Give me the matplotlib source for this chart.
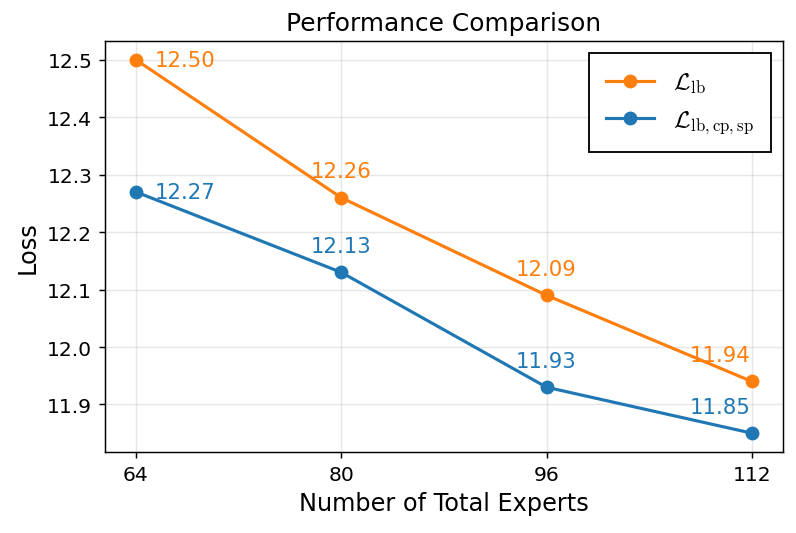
import matplotlib.pyplot as plt

plt.rcParams['mathtext.fontset'] = 'cm'

experts = [64, 80, 96, 112]
loss_lb = [12.50, 12.26, 12.09, 11.94]
loss_lb_cp_sp = [12.27, 12.13, 11.93, 11.85]

# label offsets in points, per point
offs = [(10, 0, 'left', 'center'), (0, 9, 'center', 'bottom'),
        (0, 9, 'center', 'bottom'), (-17, 9, 'center', 'bottom')]

fig, ax = plt.subplots(figsize=(6, 4.02), dpi=132.83)
fig.subplots_adjust(left=0.132, right=0.982, top=0.921, bottom=0.152)

ax.plot(experts, loss_lb, marker='o', color='#ff7f0e', linewidth=1.7, markersize=6.5,
        label=r'$\mathcal{L}_{\mathrm{lb}}$')
ax.plot(experts, loss_lb_cp_sp, marker='o', color='#1f77b4', linewidth=1.7, markersize=6.5,
        label=r'$\mathcal{L}_{\mathrm{lb,cp,sp}}$')

for ys, c in [(loss_lb, '#ff7f0e'), (loss_lb_cp_sp, '#1f77b4')]:
    for x, y, (dx, dy, ha, va) in zip(experts, ys, offs):
        ax.annotate(f'{y:.2f}', (x, y), xytext=(dx, dy), textcoords='offset points',
                    ha=ha, va=va, color=c, fontsize=11.5)

ax.set_xticks(experts)
ax.tick_params(labelsize=11)
ax.set_xlabel('Number of Total Experts', fontsize=13)
ax.set_ylabel('Loss', fontsize=13)
ax.set_title('Performance Comparison', fontsize=13.5)
ax.grid(True, alpha=0.3)
ax.legend(fancybox=False, edgecolor='black', framealpha=1, fontsize=13, borderpad=0.7)

fig.savefig('out.png')
